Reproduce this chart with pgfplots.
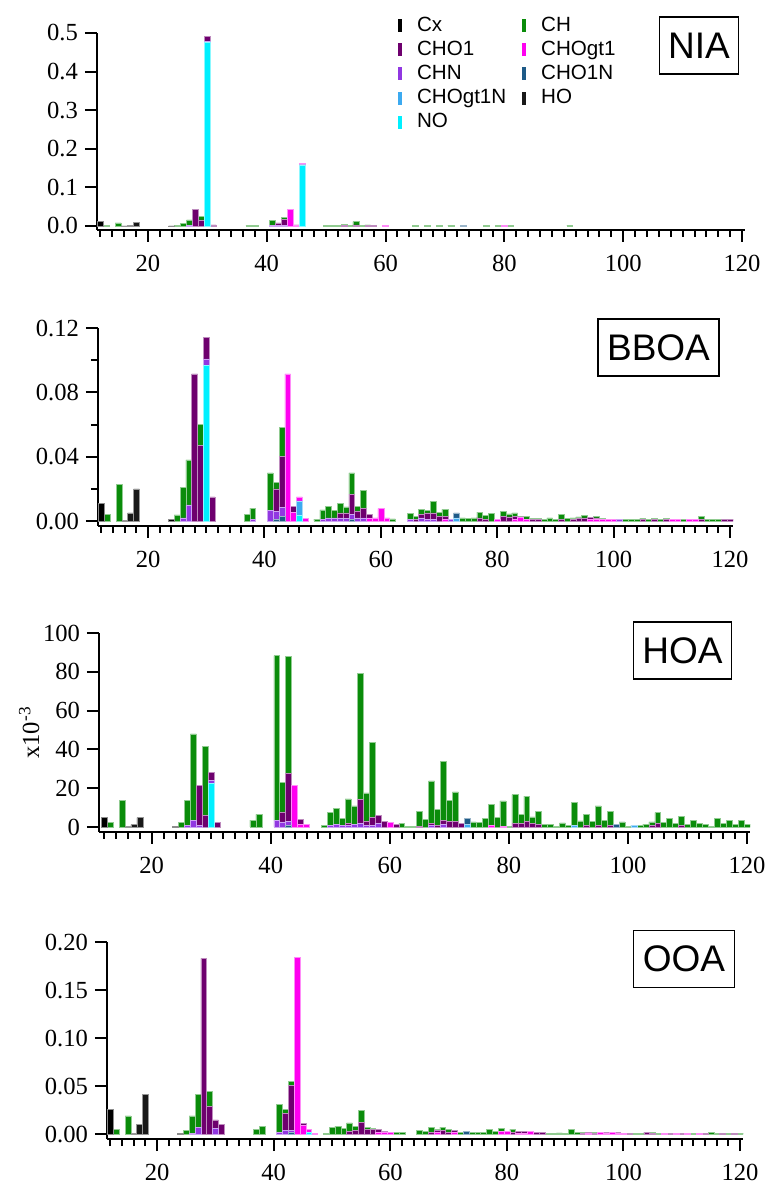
\documentclass[border=0pt]{standalone}
\usepackage{fontspec}
\setmainfont{Liberation Serif}
\newfontfamily\arial{Liberation Sans}
\usepackage{pgfplots}
\usepackage{pgfplotstable}
\pgfplotsset{compat=1.18}

\definecolor{cCx}{RGB}{0,0,0}
\definecolor{cHO}{RGB}{25,25,25}
\definecolor{cNO}{RGB}{0,240,255}
\definecolor{cCHOgtN}{RGB}{60,170,240}
\definecolor{cCHON}{RGB}{30,90,135}
\definecolor{cCHN}{RGB}{145,55,225}
\definecolor{cCHOgt}{RGB}{255,0,240}
\definecolor{cCHO}{RGB}{110,0,110}
\definecolor{cCH}{RGB}{10,140,10}

% columns: m/z, then families from bottom of the stack to top
\pgfplotstableread{
mz Cx HO NO CHOgt1N CHO1N CHN CHOgt1 CHO1 CH
12 0.012 0 0 0 0 0 0 0 0
13 0 0 0 0 0 0 0 0 0.001
15 0 0 0 0 0 0 0 0 0.008
16 0 0.0005 0 0 0 0 0 0 0
17 0 0.002 0 0 0 0 0 0 0
18 0 0.0095 0 0 0 0 0 0 0
24 0.0005 0 0 0 0 0 0 0 0
25 0 0 0 0 0 0 0 0 0.001
26 0 0 0 0 0 0 0 0 0.006
27 0 0 0 0 0 0.001 0 0 0.015
28 0 0 0 0 0 0 0 0.043 0
29 0 0 0 0 0 0 0 0.016 0.008
30 0 0 0.476 0 0 0.003 0 0.012 0
31 0 0 0 0 0 0 0 0.003 0
37 0 0 0 0 0 0 0 0 0.001
38 0 0 0 0 0 0 0 0 0.0015
41 0 0 0 0 0 0.001 0 0 0.013
42 0 0 0 0 0 0.001 0 0.007 0
43 0 0 0 0 0 0.001 0 0.017 0.005
44 0 0 0 0 0 0 0.043 0 0
45 0 0 0 0 0 0 0.002 0.001 0
46 0 0 0.157 0 0 0.002 0.004 0 0
50 0 0 0 0 0 0 0 0 0.001
51 0 0 0 0 0 0 0 0 0.002
52 0 0 0 0 0 0 0 0 0.001
53 0 0 0 0 0 0 0 0.001 0.003
54 0 0 0 0 0 0 0 0 0.001
55 0 0 0 0 0 0 0 0.003 0.008
56 0 0 0 0 0 0 0 0 0.002
57 0 0 0 0 0 0 0 0.001 0.002
58 0 0 0 0 0 0 0 0.001 0
60 0 0 0 0 0 0 0.001 0 0
65 0 0 0 0 0 0 0 0 0.0015
67 0 0 0 0 0 0 0 0 0.002
69 0 0 0 0 0 0 0 0 0.002
71 0 0 0 0 0 0 0 0 0.0015
73 0 0 0 0 0.001 0 0 0 0
77 0 0 0 0 0 0 0 0 0.001
79 0 0 0 0 0 0 0 0 0.002
80 0 0 0 0 0 0 0.002 0 0
81 0 0 0 0 0 0 0 0 0.0015
91 0 0 0 0 0 0 0 0 0.0015
}\tNIA

\pgfplotstableread{
mz Cx HO NO CHOgt1N CHO1N CHN CHOgt1 CHO1 CH
12 0.0108 0 0 0 0 0 0 0 0
13 0 0 0 0 0 0 0 0 0.0042
15 0 0 0 0 0 0 0 0 0.023
16 0 0.0005 0 0 0 0 0 0 0
17 0 0.005 0 0 0 0 0 0 0
18 0 0.020 0 0 0 0 0 0 0
24 0.001 0 0 0 0 0 0 0 0
25 0 0 0 0 0 0 0 0 0.0038
26 0 0 0 0 0 0.002 0 0 0.0188
27 0 0 0 0 0 0.010 0 0 0.028
28 0 0 0 0 0 0 0 0.0915 0
29 0 0 0 0 0 0 0 0.047 0.013
30 0 0 0.0967 0 0 0.0041 0 0.0132 0
31 0 0 0 0 0 0 0 0.015 0
37 0 0 0 0 0 0 0 0 0.0042
38 0 0 0 0 0 0.001 0 0 0.007
41 0 0 0 0 0 0.0067 0 0 0.0233
42 0 0 0 0 0.001 0.005 0 0.014 0.004
43 0 0 0 0 0.003 0.0055 0 0.0315 0.018
44 0 0 0 0 0 0 0.0915 0 0
45 0 0 0 0 0 0 0.0056 0.0034 0
46 0 0 0.0037 0.0088 0 0 0.0025 0 0
47 0 0 0 0 0 0 0.0015 0 0
49 0 0 0 0 0 0 0 0 0.0012
50 0 0 0 0 0 0.001 0 0 0.006
51 0 0 0 0 0 0.002 0 0 0.007
52 0 0 0 0 0 0.002 0 0 0.0047
53 0 0 0 0 0 0.002 0 0.003 0.006
54 0 0 0 0 0 0.0015 0 0.0035 0.0038
55 0 0 0 0 0.001 0.003 0 0.0127 0.0133
56 0 0 0 0 0 0.002 0 0.004 0.003
57 0 0 0 0 0 0.002 0 0.006 0.011
58 0 0 0 0 0 0 0.002 0.002 0
59 0 0 0 0 0 0 0.002 0 0
60 0 0 0 0 0 0 0.0077 0 0
61 0 0 0 0 0 0 0.002 0 0
62 0 0 0 0 0 0 0 0 0.0014
65 0 0 0 0 0 0.001 0 0 0.0036
66 0 0 0 0 0 0 0 0.001 0.002
67 0 0 0 0 0 0.002 0 0.002 0.0033
68 0 0 0 0 0 0.001 0 0.004 0.0016
69 0 0 0 0 0 0.001 0 0.004 0.0072
70 0 0 0 0 0 0 0 0.003 0.0026
71 0 0 0 0 0 0 0.001 0.0017 0.0046
72 0 0 0 0 0 0.001 0 0 0
73 0 0 0 0.002 0.003 0 0 0 0
74 0 0 0 0 0 0 0 0 0.002
75 0 0 0 0 0 0 0 0 0.0015
76 0 0 0 0 0 0 0 0 0.002
77 0 0 0 0 0 0 0 0.002 0.0036
78 0 0 0 0 0 0 0 0.001 0.0025
79 0 0 0 0 0 0 0 0 0.0048
80 0 0 0 0 0 0 0.001 0 0
81 0 0 0 0 0 0 0 0.003 0.003
82 0 0 0 0 0 0 0 0.0025 0.002
83 0 0 0 0 0 0 0.001 0.002 0.002
84 0 0 0 0 0 0 0.0025 0 0.0005
85 0 0 0 0 0 0 0.001 0 0.002
86 0 0 0 0 0 0 0 0.001 0.0005
87 0 0 0 0 0 0 0 0.001 0.0005
88 0 0 0 0 0 0 0 0 0.001
89 0 0 0 0 0 0 0 0 0.002
90 0 0 0 0 0 0 0 0 0.001
91 0 0 0 0 0 0 0 0.001 0.003
92 0 0 0 0 0 0 0 0 0.0015
93 0 0 0 0 0 0 0 0.001 0.001
94 0 0 0 0 0 0 0 0.0015 0.001
95 0 0 0 0 0 0 0 0.002 0.0015
96 0 0 0 0 0 0 0.001 0.0012 0
97 0 0 0 0 0 0 0.001 0.001 0.001
98 0 0 0 0 0 0 0.001 0 0.0005
99 0 0 0 0 0 0 0.0012 0 0
100 0 0 0 0 0 0 0.001 0 0
101 0 0 0 0 0 0.001 0 0 0
102 0 0 0 0 0 0 0 0 0.001
103 0 0 0 0 0 0 0 0 0.0012
104 0 0 0 0 0 0 0 0 0.0012
105 0 0 0 0 0 0 0 0.001 0.0008
106 0 0 0 0 0 0 0 0 0.001
107 0 0 0 0 0 0 0 0.0012 0.0005
108 0 0 0 0 0 0 0 0 0.001
109 0 0 0 0 0 0 0 0.001 0.0005
110 0 0 0 0 0 0 0.001 0 0
111 0 0 0 0 0 0 0.001 0 0
112 0 0 0 0 0 0 0 0 0.0008
113 0 0 0 0 0 0 0.0008 0 0
114 0 0 0 0 0 0 0.0008 0 0
115 0 0 0 0 0 0 0 0.001 0.002
116 0 0 0 0 0 0 0 0 0.001
117 0 0 0 0 0 0 0 0 0.001
118 0 0 0 0 0 0 0 0 0.001
119 0 0 0 0 0 0 0 0.0012 0
120 0 0 0 0 0 0 0 0.0012 0
}\tBBOA

\pgfplotstableread{
mz Cx HO NO CHOgt1N CHO1N CHN CHOgt1 CHO1 CH
12 4.8 0 0 0 0 0 0 0 0
13 0 0 0 0 0 0 0 0 2.2
15 0 0 0 0 0 0 0 0 13.6
16 0 0.5 0 0 0 0 0 0 0
17 0 1.2 0 0 0 0 0 0 0
18 0 4.8 0 0 0 0 0 0 0
24 0.5 0 0 0 0 0 0 0 0
25 0 0 0 0 0 0 0 0 2.2
26 0 0 0 0 0 1 0 0 12.8
27 0 0 0 0 0 3.4 0 0 44.6
28 0 0 0 0 0 1 0 20.5 0
29 0 0 0 0 0 0 0 5.9 35.6
30 0 0 22.8 0 0 1.3 0 4.2 0
31 0 0 0 0 0 0 0 2.2 0
37 0 0 0 0 0 0 0 0 3.6
38 0 0 0 0 0 0 0 0 6.5
41 0 0 0 0 0 3.3 0 0 85
42 0 0 0 0 0 2.6 0 5.2 15.3
43 0 0 0 0 1 1.9 0 24.7 60.2
44 0 0 0 0 0 0 21.4 0 0
45 0 0 0 0 0 0 1.5 2.3 0
46 0 0 0 0 0 0 1.3 0 0
49 0 0 0 0 0 0 0 0 1
50 0 0 0 0 0 1 0 0 6.6
51 0 0 0 0 0 1.3 0 0 8.4
52 0 0 0 0 0 1 0 0 3.5
53 0 0 0 0 0 1 0 1 12.5
54 0 0 0 0 0 1.5 0 0 9.4
55 0 0 0 0 0 2 0 12.3 64.7
56 0 0 0 0 0 1 0 2 14.6
57 0 0 0 0 0 1 0 4 38.6
58 0 0 0 0 0 2 0 4 0
59 0 0 0 0 0 0 0 2.8 0
60 0 0 0 0 0 0 2.5 0 0
61 0 0 0 0 0 0 0 1.2 0
62 0 0 0 0 0 0 0 0 1.9
63 0 0 0 0 0 0 0 0 0.3
64 0 0 0 0 0 0 0 0 0.3
65 0 0 0 0 0 0 0 0.5 7.4
66 0 0 0 0 0 0 0 0 3.8
67 0 0 0 0 0 1 0 1 21.8
68 0 0 0 0 0 0 0 1 8.1
69 0 0 0 0 0 1.5 0 1.8 30.7
70 0 0 0 0 0 0 0 3 10.6
71 0 0 0 0 0 0 0 3 15.1
72 0 0 0 0 0 0 0 1.7 0
73 0 0 0 1.5 2.8 0 0 0 0
74 0 0 0 0 0 0 0 0 2.6
75 0 0 0 0 0 0 0 0 2.4
76 0 0 0 0 0 0 0 0 4.3
77 0 0 0 0 0 0 1 0 10.7
78 0 0 0 0 0 0 0 0 5
79 0 0 0 0 0 0 0.5 0 12.9
80 0 0 0 0 0 0 0 0 0.5
81 0 0 0 0 0 0 0 2 14.7
82 0 0 0 0 0 0 0 2 4.5
83 0 0 0 0 0 0 0 3 12.9
84 0 0 0 0 0 0 0 2 3.2
85 0 0 0 0 0 0 0 1.5 6.6
86 0 0 0 0 0 0 0 0 1.5
87 0 0 0 0 0 0 0 0 1.5
88 0 0 0 0 0 0 0 0 0.5
89 0 0 0 0 0 0 0 0 2.1
90 0 0 0 0 0 0 0 0 0.8
91 0 0 0 1 0 0 0 0 11.6
92 0 0 0 0 0 0 0 0 3.1
93 0 0 0 0 0 0 0 1 5.5
94 0 0 0 0 0 0 0 0 2.8
95 0 0 0 0 0 0 0 1 9.9
96 0 0 0 0 0 0 0 0 3.4
97 0 0 0 0 0 0 0 1 6.9
98 0 0 0 0 1.5 0 0 0 0
99 0 0 0 0 0 0 0 0 2.6
100 0 0 0 0 0 0 0 0 0.5
101 0 0 0 1 0 0 0 0 0
102 0 0 0 0 0 0 0 0 0.8
103 0 0 0 0 0 0 0 0 1.5
104 0 0 0 0 0 0 0 1 1.6
105 0 0 0 0 0 0 0 2 5.4
106 0 0 0 0 0 0 0 0 2.4
107 0 0 0 0 0 0 0 0 4.3
108 0 0 0 0 0 0 0 0 1.7
109 0 0 0 0 0 0 0 1 4.5
110 0 0 0 0 0 0 0 0 1.2
111 0 0 0 0 0 0 0 0 3.4
112 0 0 0 0 0 0 0 0 1.9
113 0 0 0 0 0 0 0 0 1.5
114 0 0 0 0 0 0 0 0 0.5
115 0 0 0 0 0 0 0 0 4.5
116 0 0 0 0 0 0 0 0 1.7
117 0 0 0 0 0 0 0 0 3.3
118 0 0 0 0 0 0 0 0 1.5
119 0 0 0 0 0 0 0 0 3.6
120 0 0 0 0 0 0 0 0 1.5
}\tHOA

\pgfplotstableread{
mz Cx HO NO CHOgt1N CHO1N CHN CHOgt1 CHO1 CH
12 0.026 0 0 0 0 0 0 0 0
13 0 0 0 0 0 0 0 0 0.0048
15 0 0 0 0 0 0 0 0 0.019
16 0 0.001 0 0 0 0 0 0 0
17 0 0.010 0 0 0 0 0 0 0
18 0 0.041 0 0 0 0 0 0 0
24 0.0008 0 0 0 0 0 0 0 0
25 0 0 0 0 0 0 0 0 0.004
26 0 0 0 0 0 0.001 0 0 0.018
27 0 0 0 0 0 0.007 0 0 0.034
28 0 0 0 0 0 0 0 0.183 0
29 0 0 0 0 0 0 0 0.029 0.0155
30 0 0 0 0 0 0.006 0 0.0088 0
31 0 0 0 0 0 0 0 0.0103 0
37 0 0 0 0 0 0 0 0 0.0045
38 0 0 0 0 0 0 0 0 0.0076
41 0 0 0 0 0 0.002 0 0 0.029
42 0 0 0 0 0 0.004 0 0.0174 0.0046
43 0 0 0 0 0.002 0.002 0 0.047 0.0035
44 0 0 0 0 0 0 0.184 0 0
45 0 0 0 0 0 0 0.009 0.0024 0
46 0 0 0.002 0 0 0 0.0025 0 0
47 0 0 0 0 0 0 0.001 0 0
49 0 0 0 0 0 0 0 0 0.001
50 0 0 0 0 0 0 0 0 0.0069
51 0 0 0 0 0 0 0 0 0.0079
52 0 0 0 0 0 0 0 0 0.0055
53 0 0 0 0 0 0 0 0.003 0.0087
54 0 0 0 0 0 0 0 0.004 0.0036
55 0 0 0 0 0 0 0 0.012 0.0125
56 0 0 0 0 0 0 0 0.005 0.0022
57 0 0 0 0 0 0 0 0.005 0.001
58 0 0 0 0 0 0 0.002 0.003 0
59 0 0 0 0 0 0 0.002 0.001 0
60 0 0 0 0 0 0 0.002 0 0
61 0 0 0 0 0 0 0 0 0.0015
62 0 0 0 0 0 0 0 0 0.0015
65 0 0 0 0 0 0 0 0 0.004
66 0 0 0 0 0 0 0 0 0.003
67 0 0 0 0 0 0 0 0.002 0.0046
68 0 0 0 0 0 0 0.002 0.002 0.001
69 0 0 0 0 0 0 0 0.004 0.0033
70 0 0 0 0 0 0 0 0.002 0.003
71 0 0 0 0 0 0 0.002 0.002 0
72 0 0 0 0 0 0 0 0 0.0015
73 0 0 0 0 0.003 0 0 0 0
74 0 0 0 0 0 0 0 0 0.002
75 0 0 0 0 0 0 0 0 0.0015
76 0 0 0 0 0 0 0 0 0.002
77 0 0 0 0 0 0 0 0 0.005
78 0 0 0 0 0 0 0 0 0.003
79 0 0 0 0 0 0 0.003 0 0.0025
80 0 0 0 0 0 0 0.003 0 0
81 0 0 0 0 0 0 0 0.002 0.003
82 0 0 0 0 0 0 0.001 0.002 0
83 0 0 0 0 0 0 0.001 0.002 0
84 0 0 0 0 0 0 0.003 0 0
85 0 0 0 0 0 0 0 0.002 0
86 0 0 0 0 0 0 0 0.0015 0
87 0 0 0 0 0 0 0 0 0.001
88 0 0 0 0 0 0 0 0 0.001
89 0 0 0 0 0 0 0 0 0.0012
90 0 0 0 0 0 0 0 0 0.001
91 0 0 0 0 0 0 0 0 0.0045
92 0 0 0 0 0 0 0 0 0.0015
93 0 0 0 0 0 0 0 0.001 0.0008
94 0 0 0 0 0 0 0.001 0.001 0
95 0 0 0 0 0 0 0 0.001 0.001
96 0 0 0 0 0 0 0.0015 0 0
97 0 0 0 0 0 0 0.001 0.001 0
98 0 0 0 0 0 0 0.0015 0 0
99 0 0 0 0 0 0 0.001 0.001 0
100 0 0 0 0 0 0 0.001 0 0
101 0 0 0 0 0 0 0 0.001 0
102 0 0 0 0 0 0 0 0 0.001
103 0 0 0 0 0 0 0 0 0.001
104 0 0 0 0 0 0 0 0.002 0
105 0 0 0 0 0 0 0 0.001 0.0005
106 0 0 0 0 0 0 0 0 0.001
107 0 0 0 0 0 0 0.001 0 0
108 0 0 0 0 0 0 0 0.001 0
109 0 0 0 0 0 0 0.001 0 0
110 0 0 0 0 0 0 0 0.001 0
111 0 0 0 0 0 0 0.001 0 0
112 0 0 0 0 0 0 0 0 0.001
113 0 0 0 0 0 0 0.001 0 0
114 0 0 0 0 0 0 0 0.001 0
115 0 0 0 0 0 0 0 0 0.002
116 0 0 0 0 0 0 0 0 0.001
117 0 0 0 0 0 0 0 0.001 0
118 0 0 0 0 0 0 0 0 0.001
119 0 0 0 0 0 0 0 0.001 0
120 0 0 0 0 0 0 0 0 0.001
}\tOOA

\pgfplotsset{
  bb/.style={fill=#1, draw=#1!45!white, line width=0.25pt},
  panel/.style={
    scale only axis, ybar stacked, bar width=1,
    axis x line*=bottom, axis y line*=left,
    axis line style={-, line width=1.3pt},
    tick align=outside,
    xtick={20,40,...,120}, minor xtick={12,14,...,118},
    major tick length=6pt, minor tick length=3.5pt,
    tick style={black, line width=1pt},
    tick label style={font=\fontsize{12.3}{14}\selectfont},
    xticklabel style={yshift=-3pt},
    /pgf/number format/assume math mode=true,
    xmax=120.5,
  },
}

\newcommand{\famstack}[1]{%
  \addplot[bb=cCx] table[x=mz,y=Cx]{#1};
  \addplot[bb=cHO] table[x=mz,y=HO]{#1};
  \addplot[bb=cNO] table[x=mz,y=NO]{#1};
  \addplot[bb=cCHOgtN] table[x=mz,y=CHOgt1N]{#1};
  \addplot[bb=cCHON] table[x=mz,y=CHO1N]{#1};
  \addplot[bb=cCHN] table[x=mz,y=CHN]{#1};
  \addplot[bb=cCHOgt] table[x=mz,y=CHOgt1]{#1};
  \addplot[bb=cCHO] table[x=mz,y=CHO1]{#1};
  \addplot[bb=cCH] table[x=mz,y=CH]{#1};
}

\begin{document}
\begin{tikzpicture}
\useasboundingbox (0,0) rectangle (382.5pt,592.5pt);

% NIA
\begin{axis}[panel, at={(48.5pt,477.5pt)}, anchor=south west,
  width=324pt, height=98.5pt, xmin=11.43, ymin=-0.0104, ymax=0.5,
  ytick={0,0.1,0.2,0.3,0.4,0.5}, yticklabels={0.0,0.1,0.2,0.3,0.4,0.5}]
\famstack{\tNIA}
\end{axis}

% legend only
\begin{axis}[at={(48.5pt,477.5pt)}, anchor=south west, scale only axis,
  width=324pt, height=98.5pt, hide axis, xmin=0, xmax=1, ymin=0, ymax=1,
  legend columns=2,
  legend image code/.code={\fill[#1] (0pt,-3pt) rectangle (1.5pt,3pt); \path (7pt,0pt);},
  legend style={at={(0.455,1.125)}, anchor=north west, draw=none, fill=none,
    font=\arial\fontsize{10.3}{11}\selectfont, row sep=-0.6pt,
    /tikz/every even column/.style={column sep=6pt}},
  legend cell align=left]
\addlegendimage{cCx}\addlegendentry{Cx}
\addlegendimage{cCH}\addlegendentry{CH}
\addlegendimage{cCHO}\addlegendentry{CHO1}
\addlegendimage{cCHOgt}\addlegendentry{CHOgt1}
\addlegendimage{cCHN}\addlegendentry{CHN}
\addlegendimage{cCHON}\addlegendentry{CHO1N}
\addlegendimage{cCHOgtN}\addlegendentry{CHOgt1N}
\addlegendimage{cHO}\addlegendentry{HO}
\addlegendimage{cNO}\addlegendentry{NO}
\end{axis}

% BBOA
\begin{axis}[panel, at={(49pt,329.5pt)}, anchor=south west,
  width=317.5pt, height=99pt, xmin=11.4, ymin=-0.0031, ymax=0.12,
  ytick={0,0.04,0.08,0.12}, yticklabels={0.00,0.04,0.08,0.12},
  minor ytick={0.02,0.06,0.10}]
\famstack{\tBBOA}
\end{axis}

% HOA
\begin{axis}[panel, at={(49.5pt,176.5pt)}, anchor=south west,
  width=325.5pt, height=99.5pt, xmin=11.14, ymin=-2.58, ymax=100,
  ytick={0,20,40,60,80,100}, yticklabels={0,20,40,60,80,100},
  ylabel={x10\textsuperscript{-3}}, ylabel shift=-5pt,
  ylabel style={font=\fontsize{12.3}{14}\selectfont}]
\famstack{\tHOA}
\end{axis}

% OOA
\begin{axis}[panel, at={(53.5pt,23pt)}, anchor=south west,
  width=318pt, height=98.5pt, xmin=11.4, ymin=-0.0052, ymax=0.2,
  ytick={0,0.05,0.1,0.15,0.2}, yticklabels={0.00,0.05,0.10,0.15,0.20}]
\famstack{\tOOA}
\end{axis}

\tikzset{ttl/.style={draw, line width=0.6pt, inner xsep=4.5pt, minimum height=28.5pt,
  font=\arial\fontsize{18.5}{20}\selectfont}}
\node[ttl] at (349.5pt,569.75pt) {NIA};
\node[ttl] at (329.25pt,418.75pt) {BBOA};
\node[ttl] at (341.25pt,267.25pt) {HOA};
\node[ttl] at (342pt,113pt) {OOA};
\end{tikzpicture}
\end{document}
